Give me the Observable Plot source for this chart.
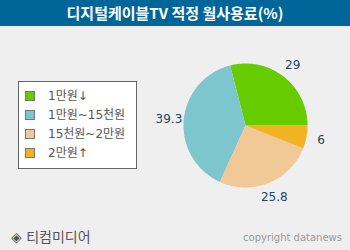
<!DOCTYPE html>
<html><head><meta charset="utf-8">
<script src="https://cdn.jsdelivr.net/npm/d3@7"></script>
<script src="https://cdn.jsdelivr.net/npm/@observablehq/plot@0.6"></script>
<style>
html,body{margin:0;padding:0;background:#efefef;}
#wrap{position:relative;width:350px;height:250px;overflow:hidden;background:#efefef;}
#title{height:26px;background:#00669a;color:#fff;font:bold 15px "Noto Sans CJK KR",sans-serif;text-align:center;line-height:26px;}
#legend{position:absolute;left:18px;top:81px;width:117px;height:86px;background:#fff;border:1px solid #666;font:12px "DejaVu Sans","Noto Sans CJK KR",sans-serif;color:#555;}
.row{position:absolute;left:0;height:16px;line-height:16px;}
.sw{position:absolute;left:6px;top:3px;width:8px;height:8px;border:1px solid #777;}
.lab{position:absolute;left:29px;top:0;white-space:nowrap;}
#src{position:absolute;left:11px;top:226px;font:14px "DejaVu Sans","Noto Sans CJK KR",sans-serif;color:#555;}
#copy{position:absolute;right:8px;top:232px;font:10px "DejaVu Sans",sans-serif;color:#999;}
</style></head>
<body><div id="wrap"><div id="title">디지털케이블TV 적정 월사용료(%)</div><div id="chart"></div><div id="legend"></div><div id="src">◈ 티컴미디어</div><div id="copy">copyright datanews</div></div>
<script>
const categories = ["1만원↓", "1만원~15천원", "15천원~2만원", "2만원↑"];
const values = [29, 39.3, 25.8, 6];
const colors = ["#66cc00", "#7dc6cd", "#f0c996", "#f0b422"];

const W = 350, H = 224, cx = 245, cy = 99, R = 62;
const arcs = d3.pie().sort(null).value(d => d)(values);
const poly = [];
const labels = [];
arcs.forEach((a, i) => {
  const n = Math.max(2, Math.ceil((a.endAngle - a.startAngle) / 0.02));
  poly.push({k: categories[i], x: 0, y: 0});
  for (let j = 0; j <= n; j++) {
    const t = a.startAngle + (a.endAngle - a.startAngle) * j / n;
    poly.push({k: categories[i], x: Math.cos(t), y: Math.sin(t)});
  }
  poly.push({k: categories[i], x: 0, y: 0});
  const m = (a.startAngle + a.endAngle) / 2;
  labels.push({k: categories[i], v: values[i], x: 1.24 * Math.cos(m), y: 1.24 * Math.sin(m)});
});

const chart = Plot.plot({
  width: W, height: H, margin: 0,
  style: {background: "transparent"},
  x: {domain: [-cx / R, (W - cx) / R], range: [0, W], axis: null},
  y: {domain: [-(H - cy) / R, cy / R], range: [H, 0], axis: null},
  color: {domain: categories, range: colors},
  marks: [
    Plot.line(poly, {x: "x", y: "y", z: "k", fill: "k", stroke: "none", curve: "linear"}),
    Plot.text(labels, {x: "x", y: "y", text: d => String(d.v), fill: "#23456b", fontSize: 12, fontFamily: "DejaVu Sans", textAnchor: "middle"})
  ]
});
document.getElementById("chart").appendChild(chart);

const lg = document.getElementById("legend");
categories.forEach((c, i) => {
  const r = document.createElement("div");
  r.className = "row";
  r.style.top = (6 + i * 19) + "px";
  r.innerHTML = `<span class="sw" style="background:${colors[i]}"></span><span class="lab">${c}</span>`;
  lg.appendChild(r);
});
</script></body></html>
